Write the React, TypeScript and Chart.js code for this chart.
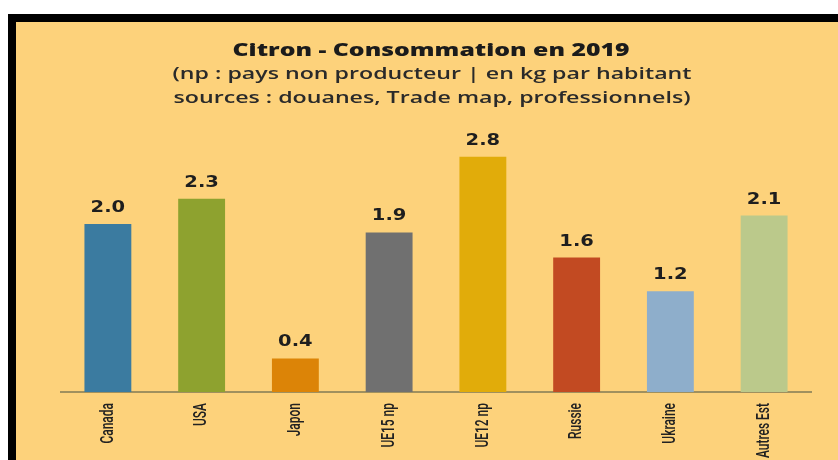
import React, { useEffect, useRef } from 'react';
import { Chart, registerables } from 'chart.js';

Chart.register(...registerables);

const categories = ['Canada', 'USA', 'Japon', 'UE15 np', 'UE12 np', 'Russie', 'Ukraine', 'Autres Est'];
const values = [2.0, 2.3, 0.4, 1.9, 2.8, 1.6, 1.2, 2.1];
const barColors = ['#3B7BA0', '#8EA22F', '#DC8407', '#707070', '#E1AC0A', '#C24A22', '#8EAECB', '#BBC98B'];
const titleText = 'Citron - Consommation en 2019';
const subtitleLines = [
  '(np : pays non producteur | en kg par habitant',
  'sources : douanes, Trade map, professionnels)',
];

const YELLOW = '#FDD27B';

function drawFitted(ctx: CanvasRenderingContext2D, text: string, x: number, y: number, font: string, color: string, targetWidth: number) {
  ctx.save();
  ctx.font = font;
  ctx.fillStyle = color;
  ctx.textAlign = 'center';
  ctx.textBaseline = 'alphabetic';
  const w = ctx.measureText(text).width;
  const sx = targetWidth / w;
  ctx.translate(x, y);
  ctx.scale(sx, 1);
  ctx.fillText(text, 0, 0);
  ctx.restore();
}

function drawStretched(ctx: CanvasRenderingContext2D, text: string, x: number, y: number, font: string, color: string, sx: number) {
  ctx.save();
  ctx.font = font;
  ctx.fillStyle = color;
  ctx.textAlign = 'center';
  ctx.textBaseline = 'alphabetic';
  ctx.translate(x, y);
  ctx.scale(sx, 1);
  ctx.fillText(text, 0, 0);
  ctx.restore();
}

const textPlugin = {
  id: 'textPlugin',
  afterDatasetsDraw(chart: any) {
    const ctx = chart.ctx as CanvasRenderingContext2D;
    // titles
    drawFitted(ctx, titleText, 415, 34, '800 18px "Open Sans"', '#1b1b1b', 397);
    drawFitted(ctx, subtitleLines[0], 416, 57, '600 16px "Open Sans"', '#2a2a2a', 519);
    drawFitted(ctx, subtitleLines[1], 416, 81, '600 16px "Open Sans"', '#2a2a2a', 517);
    // value labels
    const meta = chart.getDatasetMeta(0);
    const data = chart.data.datasets[0].data as number[];
    meta.data.forEach((bar: any, i: number) => {
      drawStretched(ctx, data[i].toFixed(1), bar.x, bar.y - 12, 'bold 15px "DejaVu Sans"', '#1e1e1e', 1.3);
    });
    // category labels (rotated, condensed)
    const xScale = chart.scales.x;
    const labels = chart.data.labels as string[];
    const yTop = chart.chartArea.bottom + 11;
    labels.forEach((lab: string, i: number) => {
      const x = xScale.getPixelForTick(i);
      ctx.save();
      ctx.font = '500 19px "Roboto"';
      ctx.fillStyle = '#222222';
      ctx.textAlign = 'right';
      ctx.textBaseline = 'middle';
      ctx.translate(x, yTop);
      ctx.rotate(-Math.PI / 2);
      ctx.scale(0.63, 1);
      ctx.fillText(lab, 0, 0);
      ctx.restore();
    });
  },
};

export default function App() {
  const canvasRef = useRef<HTMLCanvasElement | null>(null);

  useEffect(() => {
    document.body.style.margin = '0';
    const canvas = canvasRef.current;
    if (!canvas) return;
    const chart = new Chart(canvas, {
      type: 'bar',
      data: {
        labels: categories,
        datasets: [
          {
            data: values,
            backgroundColor: barColors,
            borderWidth: 0,
            barPercentage: 0.5,
            categoryPercentage: 1,
          },
        ],
      },
      options: {
        responsive: false,
        animation: false,
        devicePixelRatio: 1,
        layout: { padding: { left: 45, right: 27, top: 118, bottom: 0 } },
        plugins: {
          legend: { display: false },
          title: { display: false },
          tooltip: { enabled: false },
        },
        scales: {
          x: {
            grid: { display: false, drawTicks: false },
            border: { display: true, color: '#A0905E', width: 2 },
            ticks: { display: false },
            afterFit: (scale: any) => {
              scale.height = 68;
            },
          },
          y: {
            display: false,
            min: 0,
            max: 3,
          },
        },
      },
      plugins: [textPlugin],
    });
    return () => chart.destroy();
  }, []);

  return (
    <div style={{ position: 'relative', width: 838, height: 460, background: '#ffffff', overflow: 'hidden' }}>
      <div style={{ position: 'absolute', left: 8, top: 14, width: 830, height: 446, background: '#000000' }} />
      <div style={{ position: 'absolute', left: 16, top: 22, width: 822, height: 438, background: YELLOW }}>
        <canvas ref={canvasRef} width={822} height={438} style={{ display: 'block', width: 822, height: 438 }} />
      </div>
    </div>
  );
}
